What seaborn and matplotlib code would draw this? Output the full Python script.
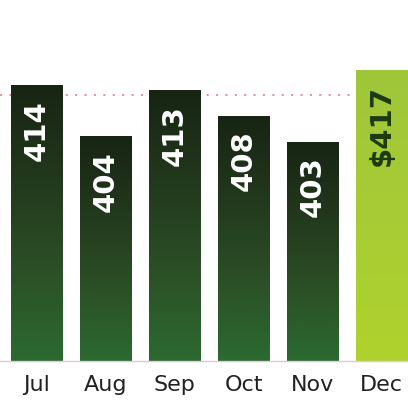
import numpy as np
import pandas as pd
import matplotlib
matplotlib.use("Agg")
import matplotlib.pyplot as plt
import seaborn as sns
from matplotlib.colors import LinearSegmentedColormap

# data
months = ["Jul", "Aug", "Sep", "Oct", "Nov", "Dec"]
values = [414, 404, 413, 408, 403, 417]
labels = ["414", "404", "413", "408", "403", "$417"]
ref_level = 412

df = pd.DataFrame({"month": months, "value": values})

sns.set_theme(style="white")
plt.rcParams["font.family"] = ["DejaVu Sans"]

fig = plt.figure(figsize=(4.08, 4.02), dpi=100)
ax = fig.add_axes([0, 0.0995, 1, 0.9005])

sns.barplot(data=df, x="month", y="value", color="#2a5a2a", width=0.75,
            ax=ax, zorder=2)

ax.set_ylim(360.4, 430.7)
ax.set_xlim(-0.536, 5.38)

# gradient fill for bars (bottom -> top)
dark = LinearSegmentedColormap.from_list(
    "dark", ["#2b6a30", "#2b4f26", "#22381c", "#172413"])
lime = LinearSegmentedColormap.from_list("lime", ["#b0d22e", "#9fc63a"])
grad = np.linspace(0, 1, 256).reshape(-1, 1)
for i, p in enumerate(ax.patches):
    x0, y0 = p.get_x(), p.get_y()
    w, h = p.get_width(), p.get_height()
    cmap = lime if i == len(months) - 1 else dark
    im = ax.imshow(grad, cmap=cmap, aspect="auto", origin="lower",
                   extent=[x0, x0 + w, ax.get_ylim()[0], y0 + h], zorder=2)
    im.set_clip_path(p)
    p.set_facecolor("none")
    p.set_edgecolor("none")

ax.set_xlim(-0.536, 5.38)
ax.set_ylim(360.4, 430.7)

# reference dotted line
ax.axhline(ref_level, color="#e88a9c", linestyle=(0, (1.2, 4)), linewidth=1.3,
           zorder=1)

# value labels inside bars
for i, (v, lab) in enumerate(zip(values, labels)):
    col = "#1d3a10" if i == len(months) - 1 else "white"
    ax.annotate(lab, xy=(i, v), xytext=(0, -10), textcoords="offset points",
                rotation=90, ha="center", va="top", fontsize=21,
                fontweight="bold", color=col, zorder=3)

ax.set_xlabel("")
ax.set_ylabel("")
ax.set_yticks([])
ax.tick_params(axis="x", length=0, pad=9, labelsize=16, labelcolor="#222222")
for s in ["left", "top", "right"]:
    ax.spines[s].set_visible(False)
ax.spines["bottom"].set_color("#e0c8d6")
ax.spines["bottom"].set_linewidth(1)

fig.savefig("out.png", dpi=100)
